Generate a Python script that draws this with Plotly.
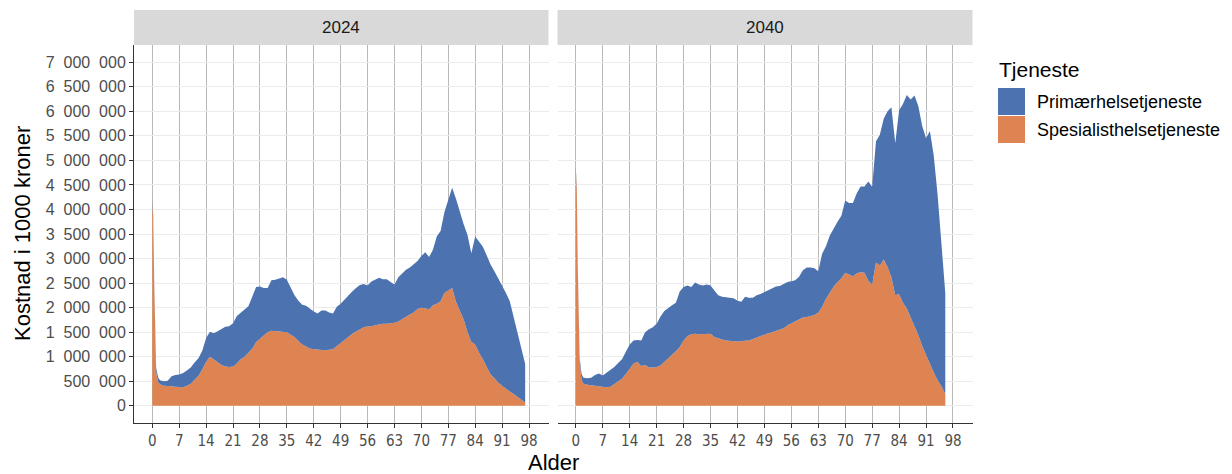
import plotly.graph_objects as go

# ---------------- data (values in 1000 kroner, read in millions) ----------------
ages_2024 = [0, 0.25, 0.5, 0.75, 1, 1.5, 2] + list(range(3, 98))
total_2024 = [4.20, 3.87, 2.55, 1.30, 0.78, 0.58, 0.52,
              0.50, 0.51, 0.60, 0.63, 0.64, 0.67, 0.72, 0.78, 0.88, 0.97,   # 3-12
              1.12, 1.38, 1.51, 1.48, 1.52, 1.57, 1.61, 1.62, 1.68, 1.83,   # 13-22
              1.90, 1.96, 2.03, 2.22, 2.42, 2.43, 2.40, 2.40, 2.56, 2.57,   # 23-32
              2.60, 2.62, 2.57, 2.40, 2.25, 2.14, 2.06, 2.04, 1.98, 1.92,   # 33-42
              1.88, 1.94, 1.94, 1.90, 1.88, 2.02, 2.08, 2.17, 2.24, 2.33,   # 43-52
              2.40, 2.46, 2.48, 2.45, 2.53, 2.57, 2.61, 2.58, 2.58, 2.52,   # 53-62
              2.47, 2.62, 2.70, 2.77, 2.82, 2.88, 2.95, 3.05, 3.13, 3.03,   # 63-72
              3.18, 3.45, 3.56, 3.95, 4.20, 4.44, 4.22, 3.95, 3.70, 3.48,   # 73-82
              3.11, 3.45, 3.35, 3.24, 3.06, 2.88, 2.74, 2.60, 2.45, 2.30,   # 83-92
              2.13, 1.80, 1.48, 1.14, 0.85]                                 # 93-97
spes_2024 = [4.15, 3.80, 2.45, 1.20, 0.70, 0.48, 0.44,
             0.41, 0.41, 0.40, 0.39, 0.38, 0.38, 0.41, 0.45, 0.53, 0.61,
             0.74, 0.90, 1.00, 0.94, 0.88, 0.83, 0.80, 0.79, 0.80, 0.86,
             0.95, 1.00, 1.08, 1.16, 1.30, 1.37, 1.44, 1.50, 1.53, 1.52,
             1.51, 1.51, 1.50, 1.45, 1.40, 1.32, 1.25, 1.21, 1.17, 1.15,
             1.14, 1.13, 1.13, 1.14, 1.15, 1.22, 1.28, 1.33, 1.40, 1.47,
             1.51, 1.55, 1.60, 1.62, 1.62, 1.64, 1.66, 1.67, 1.67, 1.68,
             1.69, 1.72, 1.77, 1.82, 1.86, 1.90, 1.97, 2.00, 1.99, 1.96,
             2.05, 2.08, 2.13, 2.30, 2.35, 2.40, 2.12, 1.95, 1.76, 1.50,
             1.30, 1.25, 1.08, 0.95, 0.78, 0.64, 0.56, 0.47, 0.41, 0.34,
             0.29, 0.24, 0.18, 0.13, 0.07]

ages_2040 = [0, 0.25, 0.5, 0.75, 1, 1.5, 2] + list(range(3, 97))
total_2040 = [4.85, 4.47, 2.92, 1.90, 0.98, 0.65, 0.57,
              0.56, 0.57, 0.63, 0.66, 0.62, 0.68, 0.73, 0.79, 0.87, 0.95,   # 3-12
              1.10, 1.25, 1.33, 1.34, 1.33, 1.50, 1.56, 1.60, 1.67, 1.82,   # 13-22
              1.93, 2.00, 2.05, 2.10, 2.33, 2.42, 2.45, 2.42, 2.51, 2.47,   # 23-32
              2.45, 2.47, 2.45, 2.35, 2.25, 2.22, 2.21, 2.20, 2.19, 2.14,   # 33-42
              2.12, 2.22, 2.20, 2.20, 2.25, 2.28, 2.32, 2.36, 2.39, 2.43,   # 43-52
              2.44, 2.48, 2.52, 2.54, 2.56, 2.63, 2.76, 2.82, 2.82, 2.80,   # 53-62
              2.74, 3.10, 3.25, 3.47, 3.62, 3.75, 3.87, 4.18, 4.13, 4.13,   # 63-72
              4.33, 4.47, 4.47, 4.57, 4.46, 5.39, 5.52, 5.85, 6.00, 6.08,   # 73-82
              5.35, 6.02, 6.15, 6.33, 6.24, 6.32, 6.10, 5.70, 5.45, 5.60,   # 83-92
              5.10, 4.30, 3.30, 2.30]                                       # 93-96
spes_2040 = [4.80, 4.40, 2.85, 1.80, 0.92, 0.52, 0.45,
             0.43, 0.42, 0.41, 0.41, 0.39, 0.38, 0.39, 0.44, 0.50, 0.55,
             0.65, 0.76, 0.86, 0.90, 0.81, 0.83, 0.78, 0.78, 0.79, 0.82,
             0.90, 0.97, 1.04, 1.11, 1.20, 1.33, 1.42, 1.46, 1.47, 1.46,
             1.46, 1.46, 1.47, 1.40, 1.37, 1.35, 1.33, 1.32, 1.31, 1.31,
             1.32, 1.32, 1.33, 1.36, 1.39, 1.42, 1.46, 1.48, 1.50, 1.53,
             1.56, 1.58, 1.64, 1.68, 1.72, 1.76, 1.80, 1.81, 1.83, 1.85,
             1.90, 2.02, 2.18, 2.30, 2.43, 2.52, 2.60, 2.71, 2.67, 2.64,
             2.70, 2.72, 2.71, 2.55, 2.47, 2.92, 2.86, 2.98, 2.83, 2.62,
             2.25, 2.28, 2.10, 1.98, 1.80, 1.62, 1.44, 1.22, 1.03, 0.86,
             0.68, 0.52, 0.40, 0.24]

UNIT = 1_000_000
years = ["2024", "2040"]
series_names = ["Primærhelsetjeneste", "Spesialisthelsetjeneste"]
colors = {"Primærhelsetjeneste": "#4C72B0", "Spesialisthelsetjeneste": "#DD8452"}

x_ticks = list(range(0, 99, 7))
y_ticks = list(range(0, 7_000_001, 500_000))
y_tick_labels = [f"{v:,}".replace(",", "\u2007") for v in y_ticks]

# ---------------- layout geometry (pixels) ----------------
W, H = 1232, 474
P1 = (134, 548.5)
P2 = (557.5, 972.5)
TOP, BOT = 45, 423
STRIP_TOP = 10

def fx(p):
    return p / W

def fy(p):
    return 1 - p / H

FONT = "Liberation Sans, Arial, Helvetica, sans-serif"
NARROW = "Liberation Sans Narrow, DejaVu Sans Condensed, Roboto Condensed, Arial Narrow, Liberation Sans, sans-serif"

fig = go.Figure()

panels = [("x", "y", ages_2024, total_2024, spes_2024),
          ("x2", "y2", ages_2040, total_2040, spes_2040)]
for xa, ya, ages, tot, spes in panels:
    fig.add_trace(go.Scatter(
        x=ages, y=[v * UNIT for v in spes], xaxis=xa, yaxis=ya,
        mode="lines", line=dict(width=0, color=colors["Spesialisthelsetjeneste"]),
        fill="tozeroy", fillcolor=colors["Spesialisthelsetjeneste"],
        name="Spesialisthelsetjeneste", showlegend=False, hoverinfo="skip"))
    fig.add_trace(go.Scatter(
        x=ages, y=[v * UNIT for v in tot], xaxis=xa, yaxis=ya,
        mode="lines", line=dict(width=0, color=colors["Primærhelsetjeneste"]),
        fill="tonexty", fillcolor=colors["Primærhelsetjeneste"],
        name="Primærhelsetjeneste", showlegend=False, hoverinfo="skip"))

xrange = [-4.76, 103.07]
yrange = [-350_000, 7_350_000]

common_x = dict(range=xrange, tickvals=x_ticks, showgrid=True, gridcolor="#B8B8B8",
                gridwidth=1, zeroline=False, showline=True, linecolor="#333333",
                linewidth=1, ticks="outside", ticklen=4, tickcolor="#333333",
                tickfont=dict(family=NARROW, size=15, color="#4D4D4D"), fixedrange=True)
common_y = dict(range=yrange, tickvals=y_ticks, showgrid=True, gridcolor="#EBEBEB",
                gridwidth=1, zeroline=False, fixedrange=True)

fig.update_layout(
    width=W, height=H, margin=dict(l=0, r=0, t=0, b=0),
    paper_bgcolor="white", plot_bgcolor="white",
    font=dict(family=FONT, color="#000000"),
    showlegend=False,
    xaxis=dict(domain=[fx(P1[0]), fx(P1[1])], anchor="y", **common_x),
    xaxis2=dict(domain=[fx(P2[0]), fx(P2[1])], anchor="y2", **common_x),
    yaxis=dict(domain=[fy(BOT), fy(TOP)], anchor="x", ticktext=y_tick_labels,
               showline=True, linecolor="#333333", linewidth=1, ticks="outside",
               ticklen=4, tickcolor="#333333",
               tickfont=dict(family=FONT, size=16, color="#4D4D4D"), **common_y),
    yaxis2=dict(domain=[fy(BOT), fy(TOP)], anchor="x2", matches="y",
                showticklabels=False, showline=False, ticks="", **common_y),
)

shapes = []
annotations = []
for (l, r), yr in zip([P1, P2], years):
    shapes.append(dict(type="rect", xref="paper", yref="paper",
                       x0=fx(l), x1=fx(r), y0=fy(TOP), y1=fy(STRIP_TOP),
                       fillcolor="#D9D9D9", line=dict(width=0), layer="below"))
    annotations.append(dict(text=yr, xref="paper", yref="paper",
                            x=fx((l + r) / 2), y=fy((TOP + STRIP_TOP) / 2),
                            xanchor="center", yanchor="middle", showarrow=False,
                            font=dict(family=FONT, size=17, color="#1A1A1A")))

# axis titles
annotations.append(dict(text="Alder", xref="paper", yref="paper",
                        x=fx((P1[0] + P2[1]) / 2), y=fy(462), xanchor="center",
                        yanchor="middle", showarrow=False,
                        font=dict(family=FONT, size=22, color="#000000")))
annotations.append(dict(text="Kostnad i 1000 kroner", xref="paper", yref="paper",
                        x=fx(23), y=fy((TOP + BOT) / 2), xanchor="center",
                        yanchor="middle", textangle=-90, showarrow=False,
                        font=dict(family=FONT, size=22, color="#000000")))

# legend
annotations.append(dict(text="Tjeneste", xref="paper", yref="paper",
                        x=fx(997), y=fy(69), xanchor="left", yanchor="middle",
                        showarrow=False, font=dict(family=FONT, size=21, color="#000000")))
for i, name in enumerate(series_names):
    y0 = 88 + i * 28
    shapes.append(dict(type="rect", xref="paper", yref="paper",
                       x0=fx(998), x1=fx(1025), y0=fy(y0 + 27), y1=fy(y0),
                       fillcolor=colors[name], line=dict(width=0)))
    annotations.append(dict(text=name, xref="paper", yref="paper",
                            x=fx(1035), y=fy(y0 + 13.5), xanchor="left",
                            yanchor="middle", showarrow=False,
                            font=dict(family=FONT, size=18, color="#000000")))

fig.update_layout(shapes=shapes, annotations=annotations)
fig.write_html("out.html", config={"displayModeBar": False},
               post_script="document.body.style.margin='0';document.body.style.padding='0';")
